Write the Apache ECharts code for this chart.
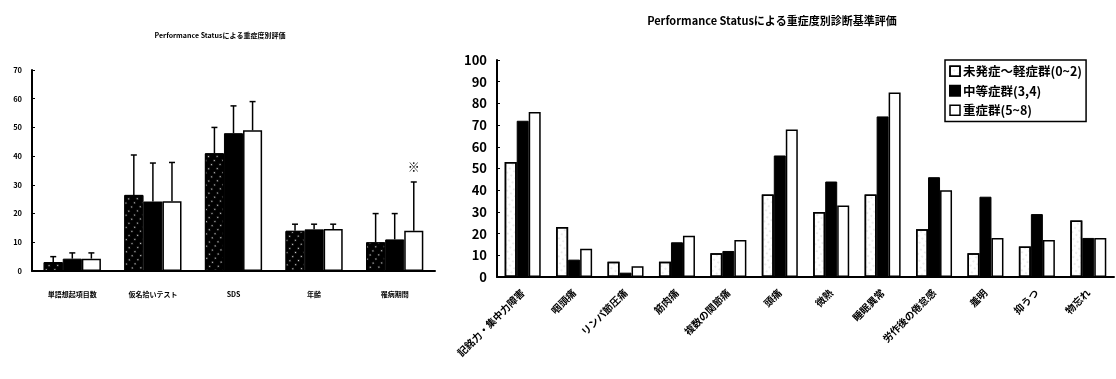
<!DOCTYPE html>
<html>
<head>
<meta charset="utf-8">
<script src="https://cdn.jsdelivr.net/npm/echarts@6/dist/echarts.min.js"></script>
<style>
  html, body { margin: 0; padding: 0; background: #fff; }
  #chart { width: 1116px; height: 379px; }
</style>
</head>
<body>
<div id="chart"></div>
<script>
// left chart: 重症度別評価 (mean + upper error)
const leftCats = ["単語想起項目数", "仮名拾いテスト", "SDS", "年齢", "罹病期間"];
const leftMild = [3.1, 26.5, 41, 14, 10];
const leftMid = [4.3, 24.2, 48, 14.5, 11];
const leftSevere = [4.3, 24.3, 49, 14.6, 14];
const leftMildErr = [5, 40.4, 50, 16.3, 20];
const leftMidErr = [6.3, 37.6, 57.5, 16.3, 20];
const leftSevereErr = [6.3, 37.8, 59, 16.3, 31];

// right chart: 診断基準評価 (%)
const rightCats = ["記銘力・集中力障害", "咽頭痛", "リンパ節圧痛", "筋肉痛", "複数の関節痛", "頭痛",
    "微熱", "睡眠異常", "労作後の倦怠感", "羞明", "抑うつ", "物忘れ"];
const rightMild = [53, 23, 7, 7, 11, 38, 30, 38, 22, 11, 14, 26];
const rightMid = [72, 8, 2, 16, 12, 56, 44, 74, 46, 37, 29, 18];
const rightSevere = [76, 13, 5, 19, 17, 68, 33, 85, 40, 18, 17, 18];
const seriesNames = ["未発症～軽症群(0~2)", "中等症群(3,4)", "重症群(5~8)"];

const font = "'Noto Sans CJK JP', 'Noto Sans', sans-serif";
const leftGap = 0.29;

const speckleDark = {
    symbol: "circle", symbolSize: 0.5, color: "rgba(255,255,255,0.85)",
    dashArrayX: [3, 4], dashArrayY: [3, 2], rotation: 0.6
};
const speckleLight = {
    symbol: "circle", symbolSize: 0.5, color: "rgba(90,90,90,0.6)",
    dashArrayX: [2, 3], dashArrayY: [2, 3], rotation: 0.6
};

const errorSeries = (idx, means, tops) => ({
    type: "custom",
    xAxisIndex: 0,
    yAxisIndex: 0,
    z: 1,
    data: means.map((v, i) => [i, v, tops[i]]),
    renderItem: (params, api) => {
        const band = api.size([1, 0])[0];
        const bw = band * (1 - leftGap) / 3;
        const base = api.coord([api.value(0), api.value(1)]);
        const top = api.coord([api.value(0), api.value(2)]);
        const x = base[0] + (idx - 1) * bw;
        return {
            type: "group",
            children: [
                { type: "line", shape: { x1: x, y1: base[1], x2: x, y2: top[1] }, style: { stroke: "#000", lineWidth: 1.5 } },
                { type: "line", shape: { x1: x - 3, y1: top[1], x2: x + 3, y2: top[1] }, style: { stroke: "#000", lineWidth: 1.5 } }
            ]
        };
    }
});

const chart = echarts.init(document.getElementById("chart"));
chart.setOption({
    animation: false,
    textStyle: { fontFamily: font },
    title: [
        {
            text: "Performance Statusによる重症度別評価",
            left: 215, top: 27, textAlign: "center",
            textStyle: { fontSize: 7, fontWeight: "bold", color: "#000" }
        },
        {
            text: "Performance Statusによる重症度別診断基準評価",
            left: 767, top: 10, textAlign: "center",
            textStyle: { fontSize: 11, fontWeight: "bold", color: "#000" }
        }
    ],
    legend: {
        data: seriesNames.map((n, i) => ({
            name: n,
            icon: "rect",
            itemStyle: i === 1 ? { color: "#000" } : { color: "#fff", borderColor: "#000", borderWidth: 1.5 }
        })),
        orient: "vertical",
        left: 945, top: 60,
        width: 158,
        padding: [5, 4, 5, 4],
        itemGap: 7,
        itemWidth: 10, itemHeight: 10,
        borderColor: "#000", borderWidth: 1.5,
        textStyle: { fontSize: 12.5, fontWeight: "bold", color: "#000", padding: [0, 0, 0, -2] },
        selectedMode: false
    },
    grid: [
        { left: 32, top: 70, width: 403, height: 201 },
        { left: 497, top: 60, width: 617, height: 217 }
    ],
    xAxis: [
        {
            type: "category", gridIndex: 0, data: leftCats,
            axisLine: { lineStyle: { color: "#000", width: 2 } },
            axisTick: { inside: true, length: 3, lineStyle: { color: "#000" } },
            axisLabel: { fontSize: 7, fontWeight: "bold", color: "#000", margin: 20, interval: 0 }
        },
        {
            type: "category", gridIndex: 1, data: rightCats,
            axisLine: { lineStyle: { color: "#000", width: 2 } },
            axisTick: { inside: true, length: 4, lineStyle: { color: "#000" } },
            axisLabel: { fontSize: 10, fontWeight: "bold", color: "#000", rotate: 45, margin: 14, interval: 0 }
        }
    ],
    yAxis: [
        {
            type: "value", gridIndex: 0, min: 0, max: 70, interval: 10,
            axisLine: { show: true, lineStyle: { color: "#000", width: 2 } },
            axisTick: { show: true, inside: true, length: 3, lineStyle: { color: "#000" } },
            splitLine: { show: false },
            axisLabel: { fontSize: 7.5, fontWeight: "bold", color: "#000", margin: 10 }
        },
        {
            type: "value", gridIndex: 1, min: 0, max: 100, interval: 10,
            axisLine: { show: true, lineStyle: { color: "#000", width: 2 } },
            axisTick: { show: true, inside: true, length: 3, lineStyle: { color: "#000" } },
            splitLine: { show: false },
            axisLabel: { fontSize: 13, fontWeight: "bold", color: "#000", margin: 10 }
        }
    ],
    series: [
        {
            type: "bar", xAxisIndex: 0, yAxisIndex: 0, data: leftMild,
            barGap: "0%", barCategoryGap: "29%", z: 2,
            itemStyle: { color: "#000", borderColor: "#000", borderWidth: 1, decal: speckleDark }
        },
        {
            type: "bar", xAxisIndex: 0, yAxisIndex: 0, data: leftMid, z: 2,
            itemStyle: { color: "#000", borderColor: "#000", borderWidth: 1 }
        },
        {
            type: "bar", xAxisIndex: 0, yAxisIndex: 0, data: leftSevere, z: 2,
            itemStyle: { color: "#fff", borderColor: "#000", borderWidth: 1.5 },
            markPoint: {
                symbol: "circle", symbolSize: 0,
                data: [{ coord: [4, 36] }],
                label: { show: true, formatter: "※", fontSize: 12, fontWeight: "bold", color: "#000" }
            }
        },
        errorSeries(0, leftMild, leftMildErr),
        errorSeries(1, leftMid, leftMidErr),
        errorSeries(2, leftSevere, leftSevereErr),
        {
            name: seriesNames[0], type: "bar", xAxisIndex: 1, yAxisIndex: 1, data: rightMild,
            barGap: "0%", barCategoryGap: "30%",
            itemStyle: { color: "#fff", borderColor: "#000", borderWidth: 1.5, decal: speckleLight }
        },
        {
            name: seriesNames[1], type: "bar", xAxisIndex: 1, yAxisIndex: 1, data: rightMid,
            itemStyle: { color: "#000", borderColor: "#000", borderWidth: 1 }
        },
        {
            name: seriesNames[2], type: "bar", xAxisIndex: 1, yAxisIndex: 1, data: rightSevere,
            itemStyle: { color: "#fff", borderColor: "#000", borderWidth: 1.5 }
        }
    ]
});
</script>
</body>
</html>
